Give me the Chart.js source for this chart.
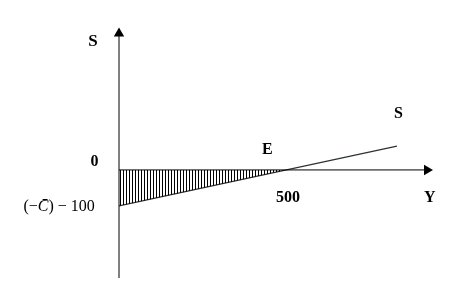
<!DOCTYPE html>
<html>
<head>
<meta charset="utf-8">
<script src="https://cdn.jsdelivr.net/npm/chart.js@4/dist/chart.umd.min.js"></script>
<style>
  body { margin: 0; background: #fff; }
  #wrap { width: 453px; height: 306px; }
</style>
</head>
<body>
<div id="wrap"><canvas id="myChart" width="453" height="306"></canvas></div>
<script>
// saving function S = -100 + 0.2 Y
var lineY = [0, 832];
var lineS = [-100, 66];
// shaded dissaving part, up to break-even E
var shadeY = [0, 500];
var shadeS = [-100, 0];
// axis extents
var axisYRange = [0, 937];
var axisSRange = [-300, 394];
var arrowLen = 15;
// labels: pieces of [text, font], Y, S
var serif = '"Liberation Serif"';
var labels = [
  [[['S', 'bold 17px ' + serif]], -92, 355],
  [[['0', 'bold 16px ' + serif]], -85, 22],
  [[['(\u2212', '16px ' + serif], ['C\u0304', 'italic 16px ' + serif], [') \u2212 100', '16px ' + serif]], -286, -103],
  [[['E', 'bold 16px ' + serif]], 428, 55],
  [[['500', 'bold 16px ' + serif]], 470, -78],
  [[['S', 'bold 16px ' + serif]], 823, 155],
  [[['Y', 'bold 16px ' + serif]], 913, -78]
];

var pts = function(xs, ys) {
  return xs.map(function(x, i) { return {x: x, y: ys[i]}; });
};

// vertical hatching pattern
var pc = document.createElement('canvas');
pc.width = 3; pc.height = 4;
var pctx = pc.getContext('2d');
pctx.fillStyle = '#000';
pctx.fillRect(0, 0, 1, 4);
var hatch = document.getElementById('myChart').getContext('2d').createPattern(pc, 'repeat');

var textPlugin = {
  id: 'texts',
  afterDraw: function(chart) {
    var ctx = chart.ctx;
    var xs = chart.scales.x, ys = chart.scales.y;
    ctx.save();
    ctx.fillStyle = '#000';
    ctx.textAlign = 'left';
    ctx.textBaseline = 'middle';
    labels.forEach(function(l) {
      var x = xs.getPixelForValue(l[1]);
      var y = ys.getPixelForValue(l[2]);
      l[0].forEach(function(p) {
        ctx.font = p[1];
        ctx.fillText(p[0], x, y);
        x += ctx.measureText(p[0]).width;
      });
    });
    ctx.restore();
  }
};

var chart = new Chart(document.getElementById('myChart'), {
  type: 'scatter',
  plugins: [textPlugin],
  data: {
    datasets: [{
      data: pts(shadeY, shadeS),
      showLine: true,
      borderWidth: 0,
      borderColor: 'rgba(0,0,0,0)',
      backgroundColor: hatch,
      fill: 'origin',
      pointRadius: 0
    }, {
      data: pts([axisYRange[0], axisYRange[1] - arrowLen], [0, 0]),
      showLine: true,
      clip: false,
      borderColor: '#000',
      borderWidth: 1,
      pointStyle: 'triangle',
      pointRotation: 90,
      pointRadius: [0, 6],
      backgroundColor: '#000',
      pointBorderWidth: 0
    }, {
      data: pts([0, 0], [axisSRange[0], axisSRange[1] - arrowLen]),
      showLine: true,
      clip: false,
      borderColor: '#000',
      borderWidth: 1,
      pointStyle: 'triangle',
      pointRadius: [0, 6],
      backgroundColor: '#000',
      pointBorderWidth: 0
    }, {
      data: pts(lineY, lineS),
      showLine: true,
      borderColor: '#2b332b',
      borderWidth: 1.2,
      pointRadius: 0
    }]
  },
  options: {
    responsive: false,
    animation: false,
    layout: { padding: { left: 119, right: 21, top: 28, bottom: 28 } },
    plugins: { legend: { display: false }, tooltip: { enabled: false } },
    scales: {
      x: { type: 'linear', min: axisYRange[0], max: axisYRange[1], display: false },
      y: { type: 'linear', min: axisSRange[0], max: axisSRange[1], display: false }
    }
  }
});
</script>
</body>
</html>
